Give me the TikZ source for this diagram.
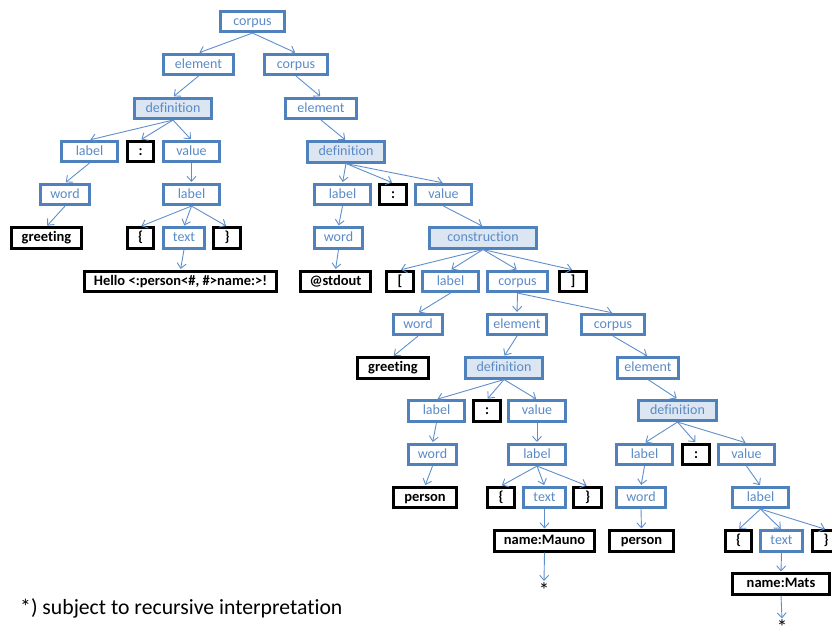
\documentclass[tikz,border=0pt]{standalone}
\usepackage{fontspec}
\setmainfont{Carlito}[Ligatures={NoCommon}]
\usetikzlibrary{arrows.meta}
\definecolor{bxblue}{HTML}{4F81BD}
\definecolor{txblue}{HTML}{5A8AC6}
\definecolor{fillblue}{HTML}{DCE6F2}
\definecolor{arblue}{HTML}{5F8FCB}
\begin{document}
\begin{tikzpicture}[x=1pt,y=-1pt,
 bx/.style={draw=bxblue, line width=2.6pt, text=txblue, minimum height=20.5pt, inner sep=0pt,
   text height=10pt, text depth=3pt, font=\fontsize{14}{14}\selectfont},
 hl/.style={bx, fill=fillblue},
 bk/.style={draw=black, line width=2.6pt, text=black, minimum height=20.5pt, inner sep=0pt,
   text height=10pt, text depth=3pt, font=\fontsize{14.5}{14.5}\selectfont\bfseries},
 ar/.style={draw=arblue, line width=0.9pt, -{Straight Barb[length=5pt,width=9pt]}, shorten >=1pt},
 star/.style={inner sep=0pt, anchor=base, text depth=0pt, font=\fontsize{21}{21}\selectfont},
]
\useasboundingbox (0,0) rectangle (832,635);
% row 1
\node[bx, minimum width=64.5pt] (c1) at (252.5,21.5) {corpus};
% row 2
\node[bx, minimum width=70.5pt] (e1) at (198.5,64.5) {element};
\node[bx, minimum width=63.5pt] (c2) at (296,64.5) {corpus};
% row 3
\node[hl, minimum width=77.5pt] (d1) at (173,108.5) {definition};
\node[bx, minimum width=71.5pt] (e2) at (321,108.5) {element};
% row 4
\node[bx, minimum width=56.5pt] (l1) at (89.5,151.5) {label};
\node[bk, minimum width=26.5pt] (k1) at (140.5,151.5) {:};
\node[bx, minimum width=56.5pt] (v1) at (191.5,151.5) {value};
\node[hl, minimum width=77.5pt] (d2) at (346,152) {definition};
% row 5
\node[bx, minimum width=49.5pt] (w1) at (65,194.5) {word};
\node[bx, minimum width=56.5pt] (l2) at (191.5,194.5) {label};
\node[bx, minimum width=56.5pt] (l3) at (342.5,194.5) {label};
\node[bk, minimum width=27.5pt] (k2) at (393,194.5) {:};
\node[bx, minimum width=56.5pt] (v2) at (443.5,194.5) {value};
% row 6
\node[bk, minimum width=70.5pt] (g1) at (46.5,238) {greeting};
\node[bk, minimum width=26.5pt] (b1) at (140.5,238) {\{};
\node[bx, minimum width=41.5pt] (t1) at (184,238) {text};
\node[bk, minimum width=27.5pt] (b2) at (227,238) {\}};
\node[bx, minimum width=48.5pt] (w2) at (338.5,238) {word};
\node[hl, minimum width=107.5pt] (con) at (483,238) {construction};
% row 7
\node[bk, minimum width=192.5pt] (hello) at (180.5,281.5) {Hello <:person<\#, \#>name:>!};
\node[bk, minimum width=70.5pt] (std) at (335.5,281.5) {@stdout};
\node[bk, minimum width=27.5pt] (sb1) at (400,281.5) {[};
\node[bx, minimum width=56.5pt] (l4) at (450.5,281.5) {label};
\node[bx, minimum width=60.5pt] (c3) at (517.5,281.5) {corpus};
\node[bk, minimum width=27.5pt] (sb2) at (573,281.5) {]};
% row 8
\node[bx, minimum width=49.5pt] (w3) at (418,324.5) {word};
\node[bx, minimum width=59.5pt] (e3) at (517,324.5) {element};
\node[bx, minimum width=63.5pt] (c4) at (613,324.5) {corpus};
% row 9
\node[bk, minimum width=71.5pt] (g2) at (393,368) {greeting};
\node[hl, minimum width=77.5pt] (d3) at (504,368) {definition};
\node[bx, minimum width=61.5pt] (e4) at (648,368) {element};
% row 10
\node[bx, minimum width=56.5pt] (l5) at (436.5,411) {label};
\node[bk, minimum width=27.5pt] (k3) at (487,411) {:};
\node[bx, minimum width=57.5pt] (v3) at (537,411) {value};
\node[hl, minimum width=78.5pt] (d4) at (677.5,410.5) {definition};
% row 11
\node[bx, minimum width=48.5pt] (w5) at (432.5,454.5) {word};
\node[bx, minimum width=57.5pt] (l6) at (537,454.5) {label};
\node[bx, minimum width=56.5pt] (l7) at (644.5,454.5) {label};
\node[bk, minimum width=27.5pt] (k4) at (696,454.5) {:};
\node[bx, minimum width=56.5pt] (v4) at (746.5,454.5) {value};
% row 12
\node[bk, minimum width=63.5pt] (p1) at (425,497.5) {person};
\node[bk, minimum width=27.5pt] (b3) at (501,497.5) {\{};
\node[bx, minimum width=42.5pt] (t2) at (544.5,497.5) {text};
\node[bk, minimum width=28.5pt] (b4) at (587.5,497.5) {\}};
\node[bx, minimum width=49.5pt] (w6) at (641,497.5) {word};
\node[bx, minimum width=56.5pt] (l8) at (760.5,497.5) {label};
% row 13
\node[bk, minimum width=100.5pt] (m1) at (544.5,541) {name:Mauno};
\node[bk, minimum width=64.5pt] (p2) at (641.5,541) {person};
\node[bk, minimum width=26.5pt] (b5) at (738.5,541) {\{};
\node[bx, minimum width=42.5pt] (t3) at (781.5,541) {text};
\node[bk, minimum width=27.5pt] (b6) at (826,541) {\}};
% row 14
\node[bk, minimum width=97.5pt] (m2) at (781,584) {name:Mats};
% stars
\node[star] (s1) at (544,597) {*};
\node[star] (s2) at (782,634.5) {*};
% footnote
\node[anchor=base west, inner sep=0pt, font=\fontsize{21.7}{21.7}\selectfont] (fn) at (20,614) {*) subject to recursive interpretation};
% edges
\foreach \a/\b in {c1/e1,c1/c2,e1/d1,c2/e2,d1/l1,d1/k1,d1/v1,l1/w1,w1/g1,v1/l2,l2/b1,l2/t1,l2/b2,t1/hello,
  e2/d2,d2/l3,d2/k2,d2/v2,l3/w2,w2/std,v2/con,con/sb1,con/l4,con/c3,con/sb2,l4/w3,w3/g2,c3/e3,c3/c4,
  e3/d3,d3/l5,d3/k3,d3/v3,l5/w5,w5/p1,v3/l6,l6/b3,l6/t2,l6/b4,t2/m1,m1/s1,
  c4/e4,e4/d4,d4/l7,d4/k4,d4/v4,l7/w6,w6/p2,v4/l8,l8/b5,l8/t3,l8/b6,t3/m2,m2/s2}
  \draw[ar] (\a.south) -- (\b.north);
\end{tikzpicture}
\end{document}
